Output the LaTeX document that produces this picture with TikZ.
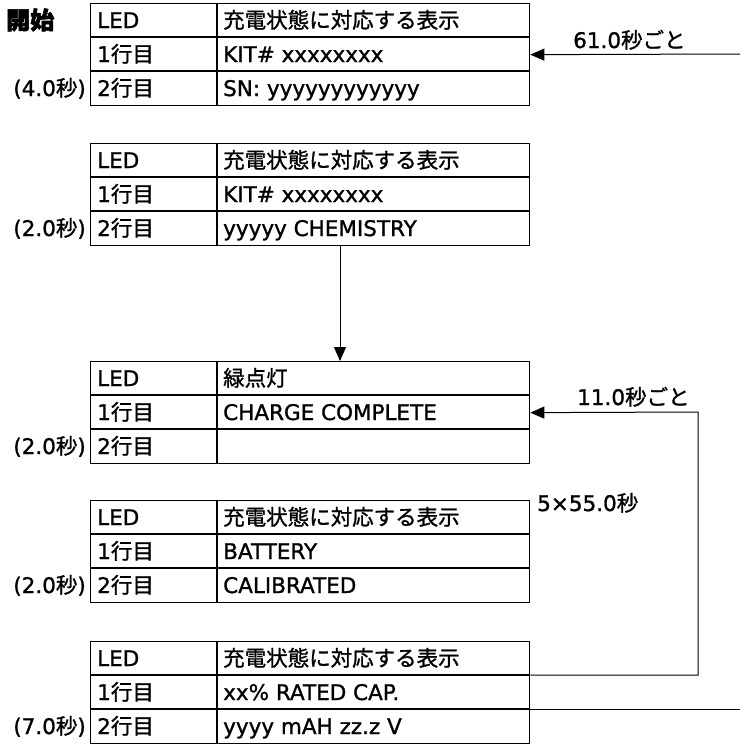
\documentclass[tikz,border=0pt]{standalone}
\usepackage{fontspec}
\setmainfont{DejaVu Sans}[FakeBold=1.2]
\newfontfamily\jpfont{Noto Sans CJK JP}[FakeBold=1.2]
\newfontfamily\jpheavy{Noto Sans CJK JP}[FakeBold=2.5]
\usetikzlibrary{arrows.meta}
\newcommand\J[1]{{\jpfont #1}}
\tikzset{
  tbl/.style={draw, line width=1.3pt, minimum width=439pt, minimum height=102pt, anchor=north west, inner sep=0pt},
  tline/.style={line width=1.1pt},
  cell/.style={anchor=base west, inner sep=0pt},
  lab/.style={anchor=base east, inner sep=0pt},
  conn/.style={line width=1pt},
  arr/.style={conn, -{Triangle[length=14pt,width=12pt]}},
}
\newcommand\ledtab[5]{%
  \node[tbl] (#1) at (90,#2) {};
  \draw[tline] ([yshift=-34pt]#1.north west) -- ([yshift=-34pt]#1.north east);
  \draw[tline] ([yshift=-68pt]#1.north west) -- ([yshift=-68pt]#1.north east);
  \draw[tline] ([xshift=127pt]#1.north west) -- ([xshift=127pt]#1.south west);
  \node[cell] (#1a) at ([shift={(7pt,-25pt)}]#1.north west) {LED};
  \node[cell] (#1b) at ([shift={(7pt,-59pt)}]#1.north west) {1\J{行目}};
  \node[cell] (#1c) at ([shift={(7pt,-93pt)}]#1.north west) {2\J{行目}};
  \node[cell] (#1d) at ([shift={(133pt,-25pt)}]#1.north west) {#3};
  \node[cell] (#1e) at ([shift={(133pt,-59pt)}]#1.north west) {#4};
  \node[cell] (#1f) at ([shift={(133pt,-93pt)}]#1.north west) {#5};
}
\begin{document}
\begin{tikzpicture}[x=1pt,y=-1pt,font=\fontsize{21.5}{24}\selectfont]
\useasboundingbox (0,0) rectangle (740,745);
\fill[white] (0,0) rectangle (740,745);

\ledtab{t1}{3}{\J{充電状態に対応する表示}}{KIT\# xxxxxxxx}{SN: yyyyyyyyyyyy}
\ledtab{t2}{143}{\J{充電状態に対応する表示}}{KIT\# xxxxxxxx}{yyyyy CHEMISTRY}
\ledtab{t3}{361}{\J{緑点灯}}{CHARGE COMPLETE}{}
\ledtab{t4}{500}{\J{充電状態に対応する表示}}{BATTERY}{CALIBRATED}
\ledtab{t5}{641}{\J{充電状態に対応する表示}}{xx\% RATED CAP.}{yyyy mAH zz.z V}

% left labels
\node[anchor=base west, inner sep=0pt] (start) at (6,29) {\fontsize{24}{26}\selectfont\jpheavy\bfseries 開始};
\node[lab] (d1) at ([shift={(-4pt,-93pt)}]t1.north west) {(4.0\J{秒})};
\node[lab] (d2) at ([shift={(-4pt,-93pt)}]t2.north west) {(2.0\J{秒})};
\node[lab] (d3) at ([shift={(-4pt,-93pt)}]t3.north west) {(2.0\J{秒})};
\node[lab] (d4) at ([shift={(-4pt,-93pt)}]t4.north west) {(2.0\J{秒})};
\node[lab] (d5) at ([shift={(-4pt,-93pt)}]t5.north west) {(7.0\J{秒})};

% connectors
\coordinate (e1) at (740,54);
\draw[arr] (e1) -- (t1.east);
\node[cell] (l1) at (573,48) {61.0\J{秒ごと}};

\draw[arr] ([xshift=250pt]t2.south west) -- ([xshift=250pt]t3.north west);

\coordinate (c1) at (698,675);
\coordinate (c2) at (698,412);
\draw[arr] (c1 -| t5.east) -- (c1) -- (c2) -- (t3.east);
\node[cell] (l2) at (577,405) {11.0\J{秒ごと}};
\node[cell] (l3) at (537,511) {5×55.0\J{秒}};

\coordinate (e2) at (740,709);
\draw[conn] (e2 -| t5.east) -- (e2);
\end{tikzpicture}
\end{document}
